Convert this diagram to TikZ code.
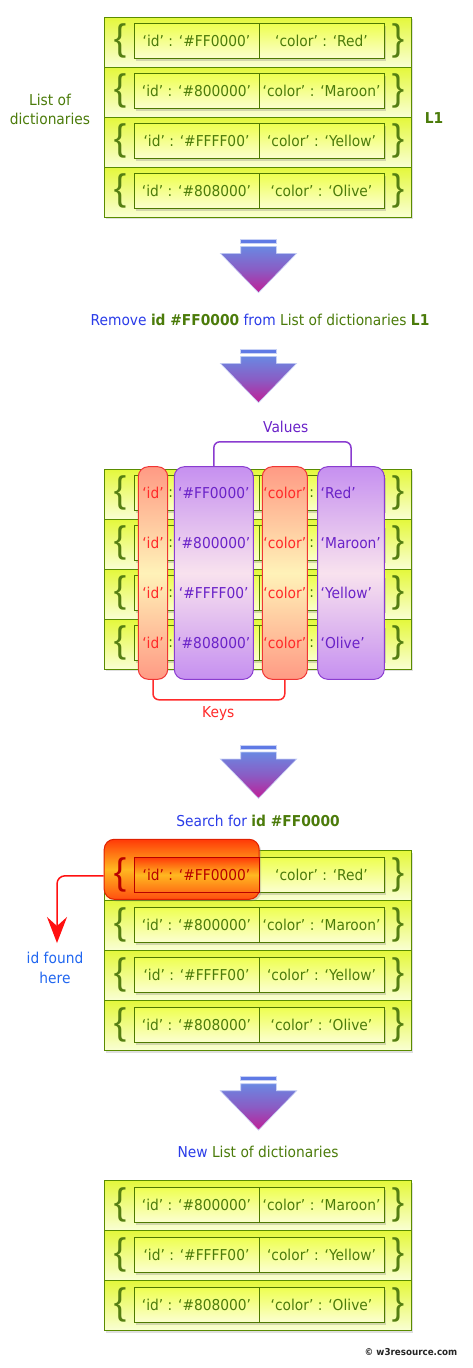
\documentclass[tikz,border=0pt]{standalone}
\usepackage{fontspec}
\setmainfont{DejaVu Sans}[FakeStretch=0.92]
\newfontfamily\bracefont{Liberation Sans}
\usetikzlibrary{shadows,arrows.meta}

\definecolor{dgreen}{HTML}{4B7B0A}
\definecolor{bracegreen}{HTML}{557F12}
\definecolor{rowborder}{HTML}{5A8C00}
\definecolor{rowtop}{HTML}{E4F83C}
\definecolor{rowbot}{HTML}{FAFFD4}
\definecolor{boxborder}{HTML}{4E7A00}
\definecolor{boxtop}{HTML}{EEFF50}
\definecolor{boxbot}{HTML}{FCFFD0}
\definecolor{txtblue}{HTML}{2A3CE8}
\definecolor{foundblue}{HTML}{2066F0}
\definecolor{keyred}{HTML}{FF2A2A}
\definecolor{pillred}{HTML}{F03434}
\definecolor{salmon}{HTML}{FF9A84}
\definecolor{cream}{HTML}{FFF2B8}
\definecolor{valpurple}{HTML}{6A22C8}
\definecolor{pillpurple}{HTML}{8A3CD0}
\definecolor{lavender}{HTML}{C690F0}
\definecolor{pinkish}{HTML}{F8E2EE}
\definecolor{arrtop}{HTML}{6A88E2}
\definecolor{arrmid}{HTML}{8A5CC4}
\definecolor{arrbot}{HTML}{C01E96}
\definecolor{arredge}{HTML}{C8D2F6}
\definecolor{hittop}{HTML}{FF3A08}
\definecolor{hitmid}{HTML}{FFB820}
\definecolor{hitbot}{HTML}{FF5010}
\definecolor{hitborder}{HTML}{E02000}
\definecolor{hitdark}{HTML}{B80000}
\definecolor{arrowred}{HTML}{FF1010}

\newcommand{\rowfont}{\fontsize{15}{18}\selectfont}

% one block of dictionary rows: [1 = with texts] prefix, top, list
\newcommand{\dictrows}[4][1]{%
  \foreach \hex/\col [count=\i] in {#4} {
    \pgfmathsetmacro{\ry}{#3+25+50*(\i-1)}
    \node[dictrow] (#2row\i) at (257.5,\ry) {};
    \node[brace] (#2lb\i) at (120,\ry-1) {\{};
    \node[brace] (#2rb\i) at (398,\ry-1) {\}};
    \node[pairbox] (#2key\i) at (196.5,\ry-1) {\ifnum#1=1 `id' : `\#\hex'\fi};
    \node[pairbox] (#2val\i) at (321.5,\ry-1) {\ifnum#1=1 `color' : `\col'\fi};
  }%
}

\begin{document}
\begin{tikzpicture}[x=1pt, y=-1pt,
    every node/.style={inner sep=0pt, font=\rowfont},
    dictrow/.style={draw=rowborder, line width=1pt, top color=rowtop, bottom color=rowbot,
      minimum width=307pt, minimum height=50pt,
      drop shadow={opacity=0.25, shadow xshift=2pt, shadow yshift=-2pt}},
    pairbox/.style={draw=boxborder, line width=0.8pt, top color=boxtop, bottom color=boxbot,
      minimum width=125pt, minimum height=35pt, text=dgreen,
      drop shadow={opacity=0.3, shadow xshift=2pt, shadow yshift=-2.5pt}},
    brace/.style={font=\bracefont\fontsize{37}{37}\selectfont, text=bracegreen},
    keypill/.style={draw=pillred, line width=1pt, rounded corners=10pt,
      top color=salmon, bottom color=salmon, middle color=cream,
      minimum width=29.4pt, minimum height=212.6pt},
    valpill/.style={draw=pillpurple, line width=1pt, rounded corners=10pt,
      top color=lavender, bottom color=lavender, middle color=pinkish,
      minimum height=212.6pt},
    keytext/.style={text=keyred},
    valtext/.style={text=valpurple},
    colon/.style={text=dgreen},
    valbracket/.style={draw=pillpurple, line width=1.5pt, rounded corners=6pt},
    keybracket/.style={draw=keyred, line width=1.5pt, rounded corners=6pt},
    arrowbody/.style={draw=arredge, line width=0.6pt, top color=arrtop, bottom color=arrbot, middle color=arrmid},
    foundarrow/.style={draw=arrowred, line width=1.5pt, rounded corners=8pt,
      -{Stealth[length=26pt, width=20pt, inset=9pt]}}]
  \useasboundingbox (0,0) rectangle (472,1368);

  % first list
  \dictrows{a}{17.3}{FF0000/Red, 800000/Maroon, FFFF00/Yellow, 808000/Olive}
  \node[text=dgreen, align=center, font=\fontsize{15}{19}\selectfont] (listlbl) at (50,109.5) {List of\\dictionaries};
  \node[text=dgreen, font=\rowfont\bfseries] (lone) at (434,118) {L1};

  % down arrows
  \foreach \ay in {239.3, 349.3, 745, 1076.7} {
    \fill[arrtop!90!blue, draw=arredge, line width=0.6pt] (240.7,\ay) rectangle (276.3,\ay+4);
    \path[arrowbody] (240.7,\ay+7) -- (276.3,\ay+7) -- (276.3,\ay+14) -- (296.7,\ay+14)
      -- (258.5,\ay+53.4) -- (220.3,\ay+14) -- (240.7,\ay+14) -- cycle;
  }

  \node (remove) at (260,320) {\textcolor{txtblue}{Remove} \textcolor{dgreen}{\bfseries id \#FF0000} \textcolor{txtblue}{from} \textcolor{dgreen}{List of dictionaries \textbf{L1}}};

  % keys and values
  \dictrows[0]{b}{469.3}{FF0000/Red, 800000/Maroon, FFFF00/Yellow, 808000/Olive}
  \node[keypill] (idpill) at (153,573) {};
  \node[valpill, minimum width=79pt] (hexpill) at (213.8,573) {};
  \node[keypill, minimum width=45pt] (colpill) at (284.8,573) {};
  \node[valpill, minimum width=66.6pt] (namepill) at (351,573) {};
  \foreach \hex/\col [count=\i] in {FF0000/Red, 800000/Maroon, FFFF00/Yellow, 808000/Olive} {
    \pgfmathsetmacro{\ty}{469.3+24+50*(\i-1)}
    \node[keytext] (idtxt\i) at (153,\ty) {`id'};
    \node[colon] (cola\i) at (170.8,\ty) {:};
    \node[valtext] (hextxt\i) at (213.8,\ty) {`\#\hex'};
    \node[keytext] (coltxt\i) at (284.8,\ty) {`color'};
    \node[colon] (colb\i) at (311.8,\ty) {:};
    \node[valtext, anchor=west] (nametxt\i) at (320.5,\ty) {`\col'};
  }
  \node[valtext] (values) at (285.7,427.3) {Values};
  \draw[valbracket] (hexpill.north) -- ++(0,-24.4) -| (namepill.north);
  \node[keytext] (keys) at (218.3,714) {Keys};
  \draw[keybracket] (idpill.south) -- ++(0,20) -| (colpill.south);

  \node (search) at (258,820.7) {\textcolor{txtblue}{Search for} \textcolor{dgreen}{\bfseries id \#FF0000}};

  % search
  \dictrows{c}{850.7}{FF0000/Red, 800000/Maroon, FFFF00/Yellow, 808000/Olive}
  \node[draw=hitborder, line width=1pt, rounded corners=10pt, top color=hittop, bottom color=hitbot,
    middle color=hitmid, minimum width=155pt, minimum height=60pt,
    drop shadow={opacity=0.3, shadow xshift=2pt, shadow yshift=-2pt}] (hit) at (181.7,869.3) {};
  \node[brace, text=hitdark] (hitbrace) at (120,874.7) {\{};
  \node[draw=hitdark, line width=0.8pt, top color=hittop, bottom color=hitbot!70!hitmid, middle color=hitmid,
    minimum width=125pt, minimum height=35pt, text=hitdark] (hitkey) at (196.5,874.7) {`id' : `\#FF0000'};
  \coordinate (foundtip) at (57,943);
  \draw[foundarrow] ([yshift=-6.5pt]hit.west) -| (foundtip);
  \node[text=foundblue, align=center, font=\fontsize{15}{20}\selectfont] (found) at (55,968) {id found\\here};

  \node (newlist) at (258,1151.7) {\textcolor{txtblue}{New} \textcolor{dgreen}{List of dictionaries}};

  % result
  \dictrows{d}{1180.7}{800000/Maroon, FFFF00/Yellow, 808000/Olive}

  \node[text=black!85, font=\fontsize{9.5}{10}\selectfont\bfseries] (copy) at (411,1352) {\textcopyright\ w3resource.com};
\end{tikzpicture}
\end{document}
